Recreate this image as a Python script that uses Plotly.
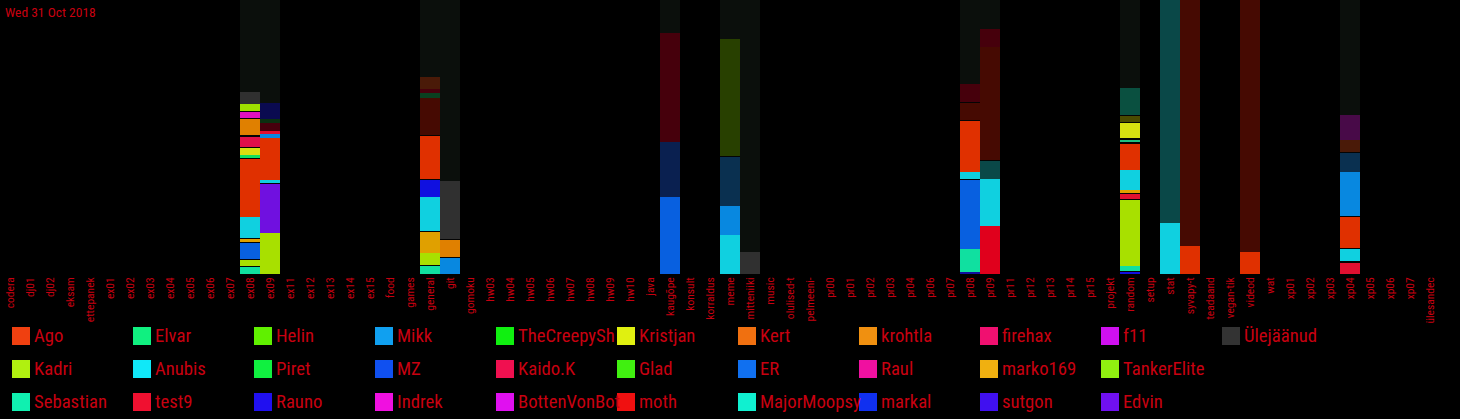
import plotly.graph_objects as go

# ---------------- data ----------------
channels = ["codera", "dj01", "dj02", "eksam", "ettepanek", "ex01", "ex02", "ex03", "ex04",
            "ex05", "ex06", "ex07", "ex08", "ex09", "ex11", "ex12", "ex13", "ex14", "ex15",
            "food", "games", "general", "git", "gomoku", "hw03", "hw04", "hw05", "hw06",
            "hw07", "hw08", "hw09", "hw10", "java", "kaugõpe", "konsult", "korraldus",
            "meme", "mitteniiki", "music", "olulised-t", "pelmeeni-", "pr00", "pr01", "pr02",
            "pr03", "pr04", "pr06", "pr07", "pr08", "pr09", "pr11", "pr12", "pr13", "pr14",
            "pr15", "projekt", "random", "setup", "stat", "syvapy-t", "teadaand", "vegan-tik",
            "videod", "wat", "xp01", "xp02", "xp03", "xp04", "xp05", "xp06", "xp07", "ülesandec"]

# stacked segments per channel, bottom -> top (share of bar, total ~274)
ex08 = [("Sebastian", 7.3), ("sep", 1), ("Kadri", 5.7), ("sep", 1), ("ER", 16.7), ("sep", 0.6),
        ("marko169", 2.7), ("sep", 1.3), ("Anubis", 20.4), ("Ago", 58.6), ("sep", 1),
        ("Elvar", 2.7), ("Kristjan", 7.3), ("sep", 1), ("Kaido.K", 10), ("sep", 1.7),
        ("krohtla", 16), ("sep", 1.3), ("Raul", 5.7), ("sep", 1), ("TankerElite", 7),
        ("Ülejäänud", 12.3), ("rest", 92)]
ex09 = [("Kadri", 41.3), ("Edvin", 48.7), ("sep", 1.3), ("Anubis", 2.7), ("Ago", 41.7),
        ("Mikk", 4.3), ("test9", 3.3), ("dimRed", 8), ("dimGreen2", 3.4), ("dimIndigo", 16),
        ("rest", 103.3)]
general = [("Sebastian", 8), ("sep", 1), ("Kadri", 12.3), ("marko169", 20.7), ("sep", 1),
           ("Anubis", 34.3), ("markal", 16.7), ("sep", 0.7), ("Ago", 43.6), ("sep", 0.7),
           ("dimAgo", 36.7), ("dimGreen", 5.6), ("dimRed", 3.4), ("dimBrown", 12.6),
           ("rest", 76.7)]
git = [("Mikk", 16.7), ("sep", 0.6), ("krohtla", 16.7), ("sep", 0.7), ("Ülejäänud", 58.6),
       ("rest", 180.7)]
kaugope = [("ER", 77.3), ("dimNavy", 54.4), ("dimRed", 109), ("rest", 33.3)]
meme = [("Anubis", 39), ("Mikk", 29.3), ("dimBlue", 49), ("sep", 1), ("dimOlive", 116.7),
        ("rest", 39)]
mitteniiki = [("Ülejäänud", 22), ("rest", 252)]
pr08 = [("Rauno", 2.3), ("Sebastian", 22.7), ("ER", 69), ("sep", 1), ("Anubis", 7.3),
        ("Ago", 51), ("sep", 0.7), ("dimAgo", 17), ("sep", 1.3), ("dimRed", 17.7), ("rest", 84)]
pr09 = [("moth", 48.3), ("Anubis", 46.7), ("dimTeal", 18.3), ("sep", 0.7), ("dimAgo", 113.3),
        ("dimRed", 17.4), ("rest", 29.3)]
random_ch = [("markal", 2.3), ("sep", 1), ("Sebastian", 5), ("Kadri", 65.7), ("sep", 1),
             ("test9", 5), ("sep", 1.3), ("marko169", 2.7), ("Anubis", 20), ("Ago", 26.7),
             ("sep", 1), ("Elvar2", 2.3), ("sep", 1.7), ("Kristjan", 16), ("sep", 0.6),
             ("dimYellow", 5.7), ("sep", 1), ("dimSea", 26.7), ("rest", 88.3)]
stat = [("Anubis", 51), ("dimTeal", 223)]
syvapy = [("Ago", 28), ("dimAgo", 246)]
videod = [("Ago", 22), ("dimAgo", 252)]
xp04 = [("test9", 11.7), ("sep", 1.3), ("Anubis", 12), ("sep", 1.3), ("Ago", 31), ("sep", 0.7),
        ("Mikk", 44.3), ("dimBlue", 19), ("sep", 1), ("dimBrown", 11.7), ("dimPurple", 25),
        ("rest", 115)]

bars = {"ex08": ex08, "ex09": ex09, "general": general, "git": git, "kaugõpe": kaugope,
        "meme": meme, "mitteniiki": mitteniiki, "pr08": pr08, "pr09": pr09,
        "random": random_ch, "stat": stat, "syvapy-t": syvapy, "videod": videod, "xp04": xp04}

legend_rows = [
    ["Ago", "Elvar", "Helin", "Mikk", "TheCreepySh", "Kristjan", "Kert", "krohtla", "firehax", "f11", "Ülejäänud"],
    ["Kadri", "Anubis", "Piret", "MZ", "Kaido.K", "Glad", "ER", "Raul", "marko169", "TankerElite"],
    ["Sebastian", "test9", "Rauno", "Indrek", "BottenVonBot", "moth", "MajorMoopsy", "markal", "sutgon", "Edvin"],
]
legend_colors = {
    "Ago": "#f04010", "Elvar": "#10f080", "Helin": "#60f000", "Mikk": "#10a0f0",
    "TheCreepySh": "#10f010", "Kristjan": "#e0f010", "Kert": "#f07010", "krohtla": "#f09010",
    "firehax": "#f01070", "f11": "#d010f0", "Ülejäänud": "#333333",
    "Kadri": "#b0f010", "Anubis": "#10e8f8", "Piret": "#10f040", "MZ": "#1050f0",
    "Kaido.K": "#f01050", "Glad": "#40f010", "ER": "#1070f0", "Raul": "#f010a0",
    "marko169": "#f0b010", "TankerElite": "#90f010",
    "Sebastian": "#10f0b0", "test9": "#f01030", "Rauno": "#2010f0", "Indrek": "#f010e0",
    "BottenVonBot": "#e010f0", "moth": "#f01010", "MajorMoopsy": "#10f0d0", "markal": "#1030f0",
    "sutgon": "#4010f0", "Edvin": "#7010f0",
}

# colours of the segments as drawn in the bars
seg_colors = {
    "Ago": "#e03000", "Kadri": "#a8e000", "Sebastian": "#10e0a0", "Anubis": "#10d0e0",
    "ER": "#0860e0", "Mikk": "#0888e0", "marko169": "#e0a000", "krohtla": "#e08000",
    "Kristjan": "#d8e010", "Elvar": "#10e060", "Elvar2": "#20c080", "Kaido.K": "#e0104a",
    "Raul": "#e010c0", "TankerElite": "#a0e000", "Ülejäänud": "#303030", "Edvin": "#7010e0",
    "markal": "#1010e0", "test9": "#e01030", "moth": "#e0001c", "Rauno": "#1010a0",
    "rest": "#0b0f0c", "sep": "#040404",
    "dimAgo": "#460a02", "dimRed": "#46000c", "dimNavy": "#0a2050", "dimBlue": "#0a3050",
    "dimOlive": "#284000", "dimTeal": "#0a4848", "dimGreen": "#0a4020", "dimBrown": "#4a1a08",
    "dimPurple": "#480a48", "dimSea": "#0a5040", "dimYellow": "#4a4a00", "dimIndigo": "#0a0a50",
    "dimGreen2": "#0a3010",
}

TEXT_RED = "#c80010"
FONT = "Roboto Condensed, DejaVu Sans Condensed, sans-serif"
TOTAL = 274.0
PLOT_W = 1440.0

fig = go.Figure()

max_levels = max(len(v) for v in bars.values())
for lvl in range(max_levels):
    xs, ys, cs = [], [], []
    for ch, segs in bars.items():
        if lvl < len(segs):
            key, val = segs[lvl]
            xs.append(ch)
            ys.append(val)
            cs.append(seg_colors[key])
    fig.add_trace(go.Bar(x=xs, y=ys, marker=dict(color=cs, line=dict(width=0)),
                         showlegend=False, hoverinfo="skip"))

# zero-height carrier so every channel is on the axis
fig.add_trace(go.Bar(x=channels, y=[0] * len(channels), showlegend=False, hoverinfo="skip",
                     marker=dict(color="rgba(0,0,0,0)", line=dict(width=0))))

shapes = []
annotations = [dict(text="Wed 31 Oct 2018", x=3 / PLOT_W, y=1 - 12 / TOTAL, xref="paper", yref="paper",
                    xanchor="left", yanchor="middle", showarrow=False,
                    font=dict(family=FONT, size=13.5, color=TEXT_RED))]

row_centers = [336, 369, 402]
sq = 18
for r, row in enumerate(legend_rows):
    cy = row_centers[r]
    for c, name in enumerate(row):
        x0 = 12 + 121 * c
        shapes.append(dict(type="rect", xref="paper", yref="paper",
                           x0=x0 / PLOT_W, x1=(x0 + sq) / PLOT_W,
                           y0=(TOTAL - (cy + sq / 2)) / TOTAL, y1=(TOTAL - (cy - sq / 2)) / TOTAL,
                           fillcolor=legend_colors[name], line=dict(width=0), layer="above"))
        annotations.append(dict(text=name, x=(x0 + sq + 2) / PLOT_W, y=(TOTAL - cy) / TOTAL,
                                xref="paper", yref="paper", xanchor="left", yanchor="middle",
                                showarrow=False,
                                font=dict(family=FONT, size=18.7, color=TEXT_RED)))

fig.update_layout(
    width=1460, height=419,
    margin=dict(l=0, r=20, t=0, b=145),
    paper_bgcolor="black", plot_bgcolor="black",
    barmode="stack", bargap=0,
    showlegend=False,
    shapes=shapes, annotations=annotations,
    xaxis=dict(type="category", categoryorder="array", categoryarray=channels,
               range=[-0.5, len(channels) - 0.5], tickangle=-90, showgrid=False, zeroline=False,
               showline=False, ticks="", fixedrange=True,
               tickfont=dict(family=FONT, size=11.5, color=TEXT_RED)),
    yaxis=dict(range=[0, TOTAL], visible=False, showgrid=False, zeroline=False, fixedrange=True),
)

fig.write_html("out.html", config={"displayModeBar": False},
               post_script="document.body.style.margin='0';document.body.style.background='black';")
